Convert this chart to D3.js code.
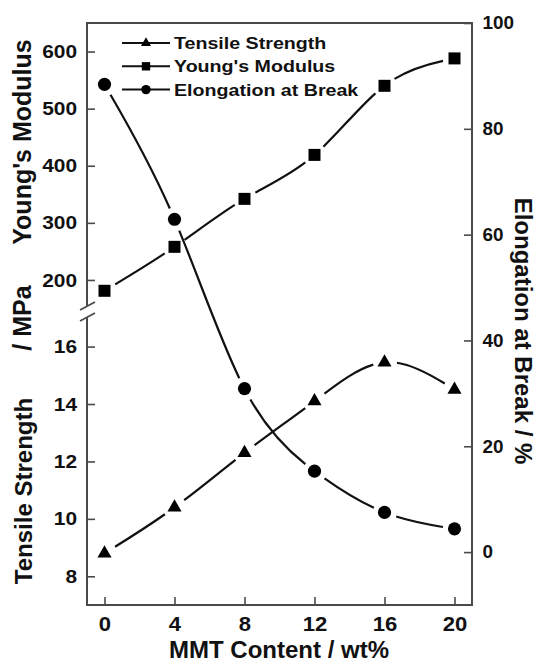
<!DOCTYPE html>
<html>
<head>
<meta charset="utf-8">
<script src="https://cdn.jsdelivr.net/npm/d3@7"></script>
<style>
  body { margin: 0; background: #fff; }
  text { font-family: "Liberation Sans", Arial, sans-serif; font-weight: bold; fill: #111; }
</style>
</head>
<body>
<div id="chart"></div>
<script>
// values
const mmt = [0, 4, 8, 12, 16, 20];
const tensile = [8.8, 10.4, 12.3, 14.1, 15.45, 14.5];
const modulus = [181, 258, 342, 419, 540, 588];
const elongation = [88.4, 62.9, 30.9, 15.3, 7.5, 4.4];

const xTicks = [0, 4, 8, 12, 16, 20];
const modulusTicks = [200, 300, 400, 500, 600];
const tensileTicks = [8, 10, 12, 14, 16];
const elongTicks = [0, 20, 40, 60, 80, 100];

const seriesNames = ["Tensile Strength", "Young's Modulus", "Elongation at Break"];

const W = 539, H = 663;
const plotL = 87, plotR = 472, plotT = 23, plotB = 605;
const breakTop = 306, breakBottom = 317;
const axisColor = "#4a4a4a";
const gapR = 12;

const svg = d3.select("#chart").append("svg")
    .attr("width", W)
    .attr("height", H);

const x = d3.scaleLinear().domain([-1, 21]).range([plotL, plotR]);
const yMod = d3.scaleLinear().domain([150, 650]).range([308.5, plotT]);
const yTen = d3.scaleLinear().domain([7, 17.1]).range([plotB, 315]);
const yEl = d3.scaleLinear().domain([-10, 100]).range([plotB, plotT]);

// frame
const frame = svg.append("g")
    .attr("stroke", axisColor)
    .attr("stroke-width", 2)
    .attr("fill", "none");
frame.append("path")
    .attr("d", `M${plotL},${breakTop}V${plotT}H${plotR}V${plotB}H${plotL}V${breakBottom}`);
// axis break marks
[breakTop, breakBottom].forEach(yb => {
    frame.append("line")
        .attr("x1", plotL - 7).attr("y1", yb + 4)
        .attr("x2", plotL + 8).attr("y2", yb - 4)
        .attr("stroke-width", 1.6);
});

function styleAxis(g, fontSize, sx) {
    g.select(".domain").remove();
    g.selectAll(".tick line").attr("stroke", axisColor).attr("stroke-width", 1.6);
    g.selectAll(".tick text")
        .attr("fill", "#111")
        .style("font-size", fontSize + "px")
        .attr("transform", `scale(${sx},1)`);
}

svg.append("g")
    .attr("transform", `translate(0,${plotB})`)
    .call(d3.axisBottom(x).tickValues(xTicks).tickSize(-8).tickPadding(11))
    .call(g => styleAxis(g, 21, 1.05));

svg.append("g")
    .attr("transform", `translate(${plotL},0)`)
    .call(d3.axisLeft(yMod).tickValues(modulusTicks).tickSize(-8).tickPadding(9))
    .call(g => styleAxis(g, 19, 1.1));

svg.append("g")
    .attr("transform", `translate(${plotL},0)`)
    .call(d3.axisLeft(yTen).tickValues(tensileTicks).tickSize(-8).tickPadding(9))
    .call(g => styleAxis(g, 19, 1.1));

svg.append("g")
    .attr("transform", `translate(${plotR},0)`)
    .call(d3.axisRight(yEl).tickValues(elongTicks).tickSize(-8).tickPadding(10))
    .call(g => styleAxis(g, 18, 1.05));

// axis titles
svg.append("text")
    .attr("transform", "translate(279,658)")
    .attr("text-anchor", "middle")
    .style("font-size", "24px")
    .text("MMT Content / wt%");

svg.append("text")
    .attr("transform", "translate(31,142) rotate(-90)")
    .attr("text-anchor", "middle")
    .style("font-size", "25px")
    .text("Young's Modulus");

svg.append("text")
    .attr("transform", "translate(31,318) rotate(-90)")
    .attr("text-anchor", "middle")
    .style("font-size", "25px")
    .text("/ MPa");

svg.append("text")
    .attr("transform", "translate(32,491) rotate(-90)")
    .attr("text-anchor", "middle")
    .style("font-size", "24px")
    .text("Tensile Strength");

svg.append("text")
    .attr("transform", "translate(515,331) rotate(90)")
    .attr("text-anchor", "middle")
    .style("font-size", "24px")
    .text("Elongation at Break / %");

// series
const series = [
    { name: seriesNames[0], values: tensile, y: yTen, symbol: d3.symbolTriangle, size: 86, legendSize: 44 },
    { name: seriesNames[1], values: modulus, y: yMod, symbol: d3.symbolSquare, size: 144, legendSize: 70 },
    { name: seriesNames[2], values: elongation, y: yEl, symbol: d3.symbolCircle, size: 136, legendSize: 70 }
];

// dash pattern so the curve stops short of every marker
function gapDashes(node, pts) {
    const total = node.getTotalLength();
    const step = 0.5;
    const dashes = [];
    let inside = null, runStart = 0;
    for (let l = 0; l <= total + step; l += step) {
        const len = Math.min(l, total);
        const p = node.getPointAtLength(len);
        const near = pts.some(q => Math.hypot(p.x - q[0], p.y - q[1]) < gapR);
        if (inside === null) {
            inside = near;
            if (near) dashes.push(0);
        } else if (near !== inside) {
            dashes.push(len - runStart);
            runStart = len;
            inside = near;
        }
        if (len === total) break;
    }
    dashes.push(total - runStart + 1);
    return dashes.map(v => v.toFixed(1)).join(",");
}

series.forEach((s, i) => {
    const pts = mmt.map((m, j) => [x(m), s.y(s.values[j])]);

    const line = d3.line().curve(d3.curveNatural);
    const path = svg.append("path")
        .attr("d", line(pts))
        .attr("fill", "none")
        .attr("stroke", "#111")
        .attr("stroke-width", 2.2);
    path.attr("stroke-dasharray", gapDashes(path.node(), pts));

    svg.selectAll(".mk" + i)
        .data(pts)
        .enter().append("path")
        .attr("class", "mk" + i)
        .attr("transform", d => `translate(${d[0]},${d[1]})`)
        .attr("d", d3.symbol().type(s.symbol).size(s.size))
        .attr("fill", "#000");
});

// legend
const legend = svg.append("g")
    .selectAll("g")
    .data(series)
    .enter().append("g")
    .attr("transform", (d, i) => `translate(0,${43 + i * 23.3})`);

legend.append("line")
    .attr("x1", 122).attr("x2", 170)
    .attr("stroke", "#111")
    .attr("stroke-width", 2);

legend.append("path")
    .attr("transform", "translate(146,0)")
    .attr("d", d => d3.symbol().type(d.symbol).size(d.legendSize)())
    .attr("fill", "#000");

legend.append("text")
    .attr("transform", "translate(174,6) scale(1.19,1)")
    .style("font-size", "16.5px")
    .text(d => d.name);
</script>
</body>
</html>
